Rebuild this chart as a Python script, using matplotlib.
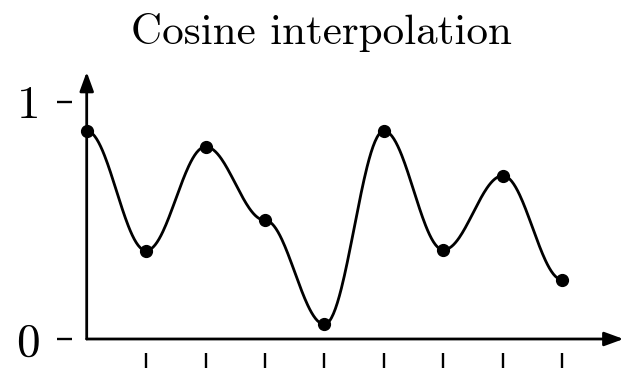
import numpy as np
import matplotlib
matplotlib.use("Agg")
import matplotlib.pyplot as plt

plt.rcParams['font.family'] = 'cmr10'
plt.rcParams['axes.unicode_minus'] = False

# sample points
xs = [0, 1, 2, 3, 4, 5, 6, 7, 8]
ys = [0.878, 0.373, 0.811, 0.501, 0.062, 0.878, 0.376, 0.689, 0.250]
ytick_vals = [0, 1]
ytick_labels = ['0', '1']
xtick_vals = [1, 2, 3, 4, 5, 6, 7, 8]


def cosine_interp(x, y, n=60):
    px, py = [], []
    for i in range(len(x) - 1):
        mu = np.linspace(0, 1, n, endpoint=False)
        mu2 = (1 - np.cos(mu * np.pi)) / 2
        px.extend(x[i] + mu * (x[i + 1] - x[i]))
        py.extend(y[i] * (1 - mu2) + y[i + 1] * mu2)
    px.append(x[-1])
    py.append(y[-1])
    return px, py


fig = plt.figure(figsize=(6.28, 3.72), dpi=100)
ax = fig.add_axes([86.7 / 628, 33 / 372, 9.1 * 59.45 / 628, 1.15 * 237 / 372])
ax.set_xlim(0, 9.1)
ax.set_ylim(0, 1.15)

cx, cy = cosine_interp(xs, ys)
ax.plot(cx, cy, color='black', lw=2.0, clip_on=False, zorder=3)
ax.plot(xs, ys, 'o', color='black', ms=8.5, clip_on=False, zorder=4)

# axes drawn as arrows
arrow = dict(arrowstyle='-|>,head_length=1.15,head_width=0.42', color='black',
             lw=2.0, shrinkA=0, shrinkB=0)
ax.annotate('', xy=(9.03, 0), xytext=(0, 0), arrowprops=arrow, annotation_clip=False)
ax.annotate('', xy=(0, 1.127), xytext=(0, 0), arrowprops=arrow, annotation_clip=False)

# ticks sit detached from the axis lines
for side in ['top', 'right', 'left', 'bottom']:
    ax.spines[side].set_visible(False)
ax.spines['left'].set_position(('outward', 10.8))
ax.spines['bottom'].set_position(('outward', 10.1))

ax.set_yticks(ytick_vals)
ax.set_yticklabels(ytick_labels)
ax.set_xticks(xtick_vals)
ax.set_xticklabels([])
ax.tick_params(axis='y', length=10.8, width=1.7, pad=12, labelsize=34, direction='out')
ax.tick_params(axis='x', length=10.8, width=1.7, direction='out')

fig.text(321.5 / 628, 1 - 33 / 372, 'Cosine interpolation', ha='center', va='center',
         fontsize=31)

fig.savefig('out.png', dpi=100)
